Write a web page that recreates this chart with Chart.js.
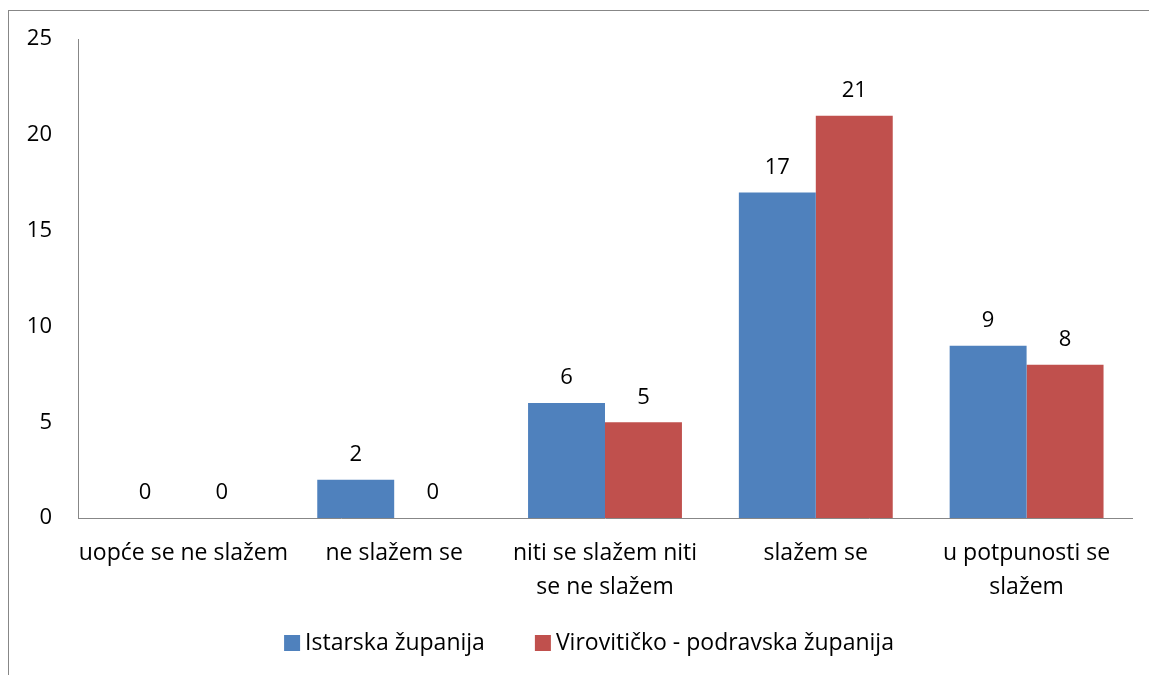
<!DOCTYPE html>
<html>
<head>
<meta charset="utf-8">
<script src="https://cdn.jsdelivr.net/npm/chart.js@4/dist/chart.umd.min.js"></script>
<style>
  html, body { margin: 0; padding: 0; background: #fff; overflow: hidden; }
  #wrap { position: relative; width: 1149px; height: 675px; }
  #frame { position: absolute; left: 8px; top: 10px; width: 1200px; height: 700px; border: 1px solid #878787; }
  canvas { position: absolute; left: 0; top: 0; }
</style>
</head>
<body>
<div id="wrap">
  <div id="frame"></div>
  <canvas id="c" width="1149" height="675"></canvas>
</div>
<script>
const categories = [
    'uopće se ne slažem',
    'ne slažem se',
    ['niti se slažem niti', 'se ne slažem'],
    'slažem se',
    ['u potpunosti se', 'slažem']
];
const istarska = [0, 2, 6, 17, 9];
const virovitica = [0, 0, 5, 21, 8];
const seriesNames = ['Istarska županija', 'Virovitičko - podravska županija'];
const seriesColors = ['#4F81BD', '#C0504D'];
const yTicks = [0, 5, 10, 15, 20, 25];

const FONT = '"Open Sans", sans-serif';

// brojevi iznad stupaca
const valueLabels = {
    id: 'valueLabels',
    afterDatasetsDraw(chart) {
        const ctx = chart.ctx;
        ctx.save();
        ctx.font = '22px ' + FONT;
        ctx.fillStyle = '#000';
        ctx.textAlign = 'center';
        ctx.textBaseline = 'middle';
        chart.data.datasets.forEach((ds, i) => {
            chart.getDatasetMeta(i).data.forEach((bar, j) => {
                ctx.fillText(String(ds.data[j]), bar.x, bar.y - 25);
            });
        });
        ctx.restore();
    }
};

// legenda ispod grafa
const bottomLegend = {
    id: 'bottomLegend',
    afterDraw(chart) {
        const ctx = chart.ctx;
        ctx.save();
        ctx.font = '23px ' + FONT;
        ctx.fillStyle = '#000';
        ctx.textBaseline = 'middle';
        const y = 643;
        const box = 16, gap = 5, spacing = 50;
        const items = chart.data.datasets.map(ds => ({
            text: ds.label, color: ds.backgroundColor, w: box + gap + ctx.measureText(ds.label).width
        }));
        const total = items.reduce((s, it) => s + it.w, 0) + spacing * (items.length - 1);
        let x = 589 - total / 2;
        items.forEach(it => {
            ctx.fillStyle = it.color;
            ctx.fillRect(x, y - box / 2, box, box);
            ctx.fillStyle = '#000';
            ctx.fillText(it.text, x + box + gap, y);
            x += it.w + spacing;
        });
        ctx.restore();
    }
};

new Chart(document.getElementById('c'), {
    type: 'bar',
    data: {
        labels: categories,
        datasets: [
            { label: seriesNames[0], data: istarska, backgroundColor: seriesColors[0] },
            { label: seriesNames[1], data: virovitica, backgroundColor: seriesColors[1] }
        ]
    },
    options: {
        responsive: false,
        animation: false,
        layout: { padding: { top: 30, right: 17, left: 0, bottom: 0 } },
        datasets: { bar: { categoryPercentage: 0.73, barPercentage: 1 } },
        plugins: { legend: { display: false }, tooltip: { enabled: false } },
        scales: {
            x: {
                grid: { display: false, drawTicks: false },
                border: { display: true, color: '#878787', width: 1 },
                ticks: { color: '#000', font: { family: FONT, size: 23, lineHeight: '34px' }, padding: 18, maxRotation: 0, autoSkip: false },
                afterFit(scale) { scale.height = 157; }
            },
            y: {
                min: 0,
                max: 25,
                afterBuildTicks(scale) { scale.ticks = yTicks.map(v => ({ value: v })); },
                grid: { display: false, drawTicks: false },
                border: { display: true, color: '#878787', width: 1 },
                ticks: { color: '#000', font: { family: FONT, size: 22 }, padding: 26 },
                afterFit(scale) { scale.width = 78; }
            }
        }
    },
    plugins: [valueLabels, bottomLegend]
});
</script>
</body>
</html>
